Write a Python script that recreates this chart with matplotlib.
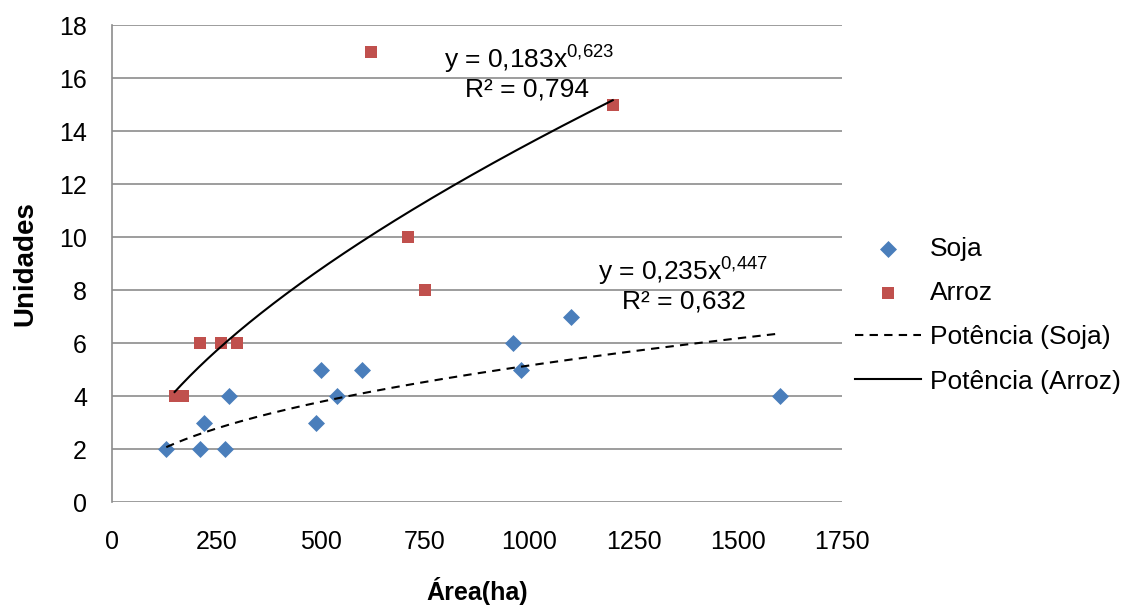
import matplotlib
matplotlib.use("Agg")
from matplotlib import pyplot as plt
import numpy as np

plt.rcParams['font.family'] = ['Liberation Sans', 'DejaVu Sans']
plt.rcParams['mathtext.fontset'] = 'custom'
plt.rcParams['mathtext.rm'] = 'Liberation Sans'

# data
soja_area = [130, 210, 220, 270, 280, 490, 500, 540, 600, 960, 980, 1100, 1600]
soja_un = [2, 2, 3, 2, 4, 3, 5, 4, 5, 6, 5, 7, 4]
arroz_area = [150, 170, 210, 260, 300, 620, 710, 750, 1200]
arroz_un = [4, 4, 6, 6, 6, 17, 10, 8, 15]

# power fits as printed on the chart
soja_a, soja_b = 0.235, 0.447
arroz_a, arroz_b = 0.183, 0.623

fs = 18

fig = plt.figure(figsize=(11.26, 6.06), dpi=100)
ax = fig.add_axes([0.0995, 0.1716, 0.6485, 0.7871])

ax.scatter(soja_area, soja_un, marker='D', s=75, color='#4a7ebb', zorder=3, label='Soja', linewidths=0)
ax.scatter(arroz_area, arroz_un, marker='s', s=80, color='#c0504d', zorder=3, label='Arroz', linewidths=0)

xs = np.linspace(min(soja_area), max(soja_area), 200)
ax.plot(xs, soja_a * xs ** soja_b, '--', color='black', lw=1.5, dashes=(4, 3), label='Potência (Soja)', zorder=4)
xa = np.linspace(min(arroz_area), max(arroz_area), 200)
ax.plot(xa, arroz_a * xa ** arroz_b, '-', color='black', lw=1.5, label='Potência (Arroz)', zorder=4)

ax.set_xlim(0, 1750)
ax.set_ylim(0, 18)
ax.set_xticks(np.arange(0, 1751, 250))
ax.set_yticks(np.arange(0, 19, 2))
ax.yaxis.grid(True, color='#8c8c8c', lw=1.2)
ax.set_axisbelow(True)
for s in ['top', 'right', 'bottom']:
    ax.spines[s].set_visible(False)
ax.spines['left'].set_color('#8c8c8c')
ax.spines['left'].set_linewidth(1.2)
ax.tick_params(length=0, labelsize=fs)
ax.tick_params(axis='x', pad=20)
ax.tick_params(axis='y', pad=18)

ax.set_xlabel('Área(ha)', fontsize=fs, fontweight='bold', labelpad=17)
ax.set_ylabel('Unidades', fontsize=20, fontweight='bold', labelpad=15)

ax.text(1000, 16.68, r'y = 0,183x$\mathregular{^{0{,}623}}$', fontsize=19, ha='center', va='center')
ax.text(995, 15.55, 'R² = 0,794', fontsize=19, ha='center', va='center')
ax.text(1369, 8.68, r'y = 0,235x$\mathregular{^{0{,}447}}$', fontsize=19, ha='center', va='center')
ax.text(1371, 7.55, 'R² = 0,632', fontsize=19, ha='center', va='center')

ax.legend(loc='center left', bbox_to_anchor=(0.985, 0.392), frameon=False, fontsize=19,
          handlelength=2.5, labelspacing=0.77, handletextpad=0.35, markerscale=1.0)

fig.savefig('out.png', dpi=100)
